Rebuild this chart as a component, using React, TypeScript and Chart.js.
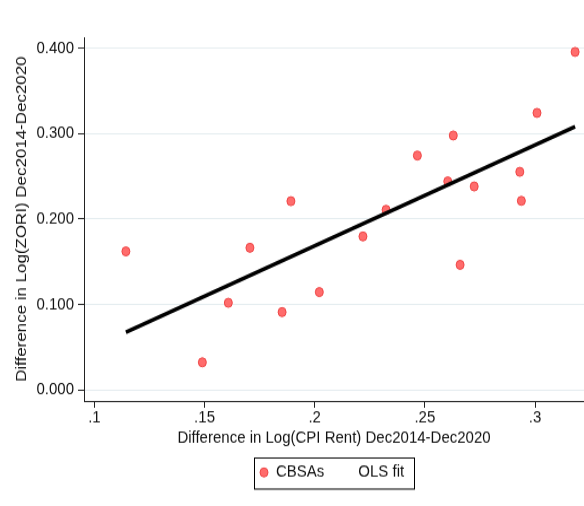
import React, { useEffect, useRef } from 'react';
import { Chart, registerables } from 'chart.js';

Chart.register(...registerables);

// ---- data ----
const cbsaX = [0.1143, 0.149, 0.1608, 0.1706, 0.1852, 0.1892, 0.2021, 0.2219, 0.2324, 0.2466, 0.2604, 0.2629, 0.266, 0.2724, 0.2931, 0.2938, 0.3009, 0.3182];
const cbsaY = [0.1621, 0.0324, 0.102, 0.1663, 0.0911, 0.2208, 0.1145, 0.1796, 0.2107, 0.2742, 0.2439, 0.2976, 0.1464, 0.238, 0.2551, 0.2212, 0.324, 0.3953];
const fitX = [0.1143, 0.3182];
const fitY = [0.0676, 0.3079];
const xTickValues = [0.1, 0.15, 0.2, 0.25, 0.3];
const xTickLabels = ['.1', '.15', '.2', '.25', '.3'];
const yTickValues = [0, 0.1, 0.2, 0.3, 0.4];
const yTickLabels = ['0.000', '0.100', '0.200', '0.300', '0.400'];
const seriesLabels = ['CBSAs', 'OLS fit'];
const xTitle = 'Difference in Log(CPI Rent) Dec2014-Dec2020';
const yTitle = 'Difference in Log(ZORI) Dec2014-Dec2020';

const W = 584;
const H = 448;
const DISPLAY_H = 506;
const FONT = "'Liberation Sans', Arial, Helvetica, sans-serif";
const TEXT = '#111111';
const POINT_FILL = 'rgba(255, 95, 95, 0.92)';
const POINT_BORDER = '#ee4444';

const legendBoxPlugin = {
  id: 'legendBox',
  afterDraw(chart: any) {
    const ctx = chart.ctx as CanvasRenderingContext2D;
    const { left, right } = chart.chartArea;
    const cx = (left + right) / 2;
    const boxW = 160;
    const boxH = 27.5;
    const top = 404.5;
    const x0 = cx - boxW / 2;
    const midY = top + boxH / 2;
    ctx.save();
    ctx.strokeStyle = '#000';
    ctx.lineWidth = 1;
    ctx.strokeRect(Math.round(x0) + 0.5, Math.round(top) + 0.5, boxW, boxH);
    // marker
    ctx.beginPath();
    ctx.arc(x0 + 10, midY, 4, 0, Math.PI * 2);
    ctx.fillStyle = POINT_FILL;
    ctx.fill();
    ctx.lineWidth = 1;
    ctx.strokeStyle = POINT_BORDER;
    ctx.stroke();
    ctx.fillStyle = TEXT;
    ctx.font = `15px ${FONT}`;
    ctx.textBaseline = 'middle';
    ctx.textAlign = 'left';
    ctx.fillText(seriesLabels[0], x0 + 22, midY);
    ctx.fillText(seriesLabels[1], x0 + 104.3, midY);
    ctx.restore();
  },
};

export default function App() {
  const canvasRef = useRef<HTMLCanvasElement | null>(null);

  useEffect(() => {
    document.body.style.margin = '0';
    const canvas = canvasRef.current;
    if (!canvas) return;
    const chart = new Chart(canvas, {
      type: 'scatter',
      data: {
        datasets: [
          {
            label: seriesLabels[1],
            type: 'line',
            data: fitX.map((x, i) => ({ x, y: fitY[i] })),
            borderColor: '#000000',
            backgroundColor: '#000000',
            borderWidth: 3.6,
            borderCapStyle: 'butt',
            pointRadius: 0,
            showLine: true,
            fill: false,
            order: 0,
          } as any,
          {
            label: seriesLabels[0],
            data: cbsaX.map((x, i) => ({ x, y: cbsaY[i] })),
            backgroundColor: POINT_FILL,
            borderColor: POINT_BORDER,
            borderWidth: 1,
            pointRadius: 4,
            order: 1,
          },
        ],
      },
      options: {
        animation: false,
        responsive: false,
        devicePixelRatio: 1,
        layout: { autoPadding: false, padding: { top: 33, left: 0, right: 0, bottom: 0 } },
        plugins: {
          legend: { display: false },
          tooltip: { enabled: false },
        },
        font: { family: FONT, size: 15 },
        scales: {
          x: {
            type: 'linear',
            min: 0.09528,
            max: 0.32224,
            afterBuildTicks: (scale: any) => {
              scale.ticks = xTickValues.map((v) => ({ value: v }));
            },
            afterFit: (scale: any) => {
              scale.height = H - 355;
            },
            ticks: {
              color: TEXT,
              font: { family: FONT, size: 15 },
              padding: 0,
              maxRotation: 0,
              autoSkip: false,
              callback: (value: any) => xTickLabels[xTickValues.indexOf(Number(value))] ?? '',
            },
            grid: {
              drawOnChartArea: false,
              drawTicks: true,
              tickLength: 6,
              tickColor: '#222222',
              tickWidth: 1,
            },
            border: { display: true, color: '#222222', width: 1 },
            title: {
              display: true,
              text: xTitle,
              color: TEXT,
              font: { family: FONT, size: 15 },
              padding: { top: 0, bottom: 51.5 },
            },
          },
          y: {
            type: 'linear',
            min: -0.0128,
            max: 0.4124,
            afterBuildTicks: (scale: any) => {
              scale.ticks = yTickValues.map((v) => ({ value: v }));
            },
            afterFit: (scale: any) => {
              scale.width = 84;
            },
            ticks: {
              color: TEXT,
              font: { family: FONT, size: 15 },
              padding: 4,
              autoSkip: false,
              callback: (value: any) => yTickLabels[yTickValues.indexOf(Number(value))] ?? '',
            },
            grid: {
              drawOnChartArea: true,
              color: '#e4ecef',
              lineWidth: 1,
              drawTicks: true,
              tickLength: 6,
              tickColor: '#222222',
              tickWidth: 1,
            },
            border: { display: true, color: '#222222', width: 1 },
            title: {
              display: true,
              text: yTitle,
              color: TEXT,
              font: { family: FONT, size: 15 },
              padding: { top: 13, bottom: 0 },
            },
          },
        },
      } as any,
      plugins: [legendBoxPlugin],
    });
    return () => {
      chart.destroy();
    };
  }, []);

  return (
    <div style={{ position: 'fixed', left: 0, top: 0, width: W, height: DISPLAY_H, background: '#ffffff', overflow: 'hidden' }}>
      <canvas
        ref={canvasRef}
        width={W}
        height={H}
        style={{ display: 'block', width: `${W}px`, height: `${DISPLAY_H}px` }}
      />
    </div>
  );
}
